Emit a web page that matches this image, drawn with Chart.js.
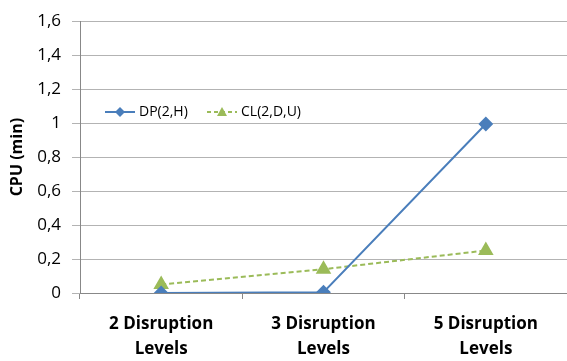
<!DOCTYPE html>
<html lang="en">
<head>
  <meta charset="UTF-8">
  <title>CPU time by disruption levels</title>
  <script src="https://cdn.jsdelivr.net/npm/chart.js@4.4.4/dist/chart.umd.min.js"></script>
  <style>
    html, body { margin: 0; padding: 0; background: #fff; }
    #wrap { width: 567px; height: 361px; }
  </style>
</head>
<body>
  <div id="wrap"><canvas id="chart"></canvas></div>
  <script>
    const categories = [["2 Disruption", "Levels"], ["3 Disruption", "Levels"], ["5 Disruption", "Levels"]];
    const dpValues = [0, 0.005, 0.995];
    const clValues = [0.05, 0.14, 0.25];
    const seriesNames = ["DP(2,H)", "CL(2,D,U)"];
    const yTicks = [0, 0.2, 0.4, 0.6, 0.8, 1, 1.2, 1.4, 1.6];

    const FONT = "'Open Sans', 'Liberation Sans', sans-serif";
    const BLUE = '#4a7ebb';
    const GREEN = '#9bbb59';

    // legend drawn inside the plot area, like the original
    const innerLegend = {
      id: 'innerLegend',
      afterDraw(chart) {
        const ctx = chart.ctx;
        const y = 112;
        ctx.save();
        ctx.font = "14px " + FONT;
        ctx.textBaseline = 'middle';

        ctx.strokeStyle = BLUE;
        ctx.lineWidth = 2;
        ctx.beginPath(); ctx.moveTo(105, y); ctx.lineTo(135, y); ctx.stroke();
        ctx.fillStyle = BLUE;
        ctx.beginPath();
        ctx.moveTo(120, y - 5); ctx.lineTo(125, y); ctx.lineTo(120, y + 5); ctx.lineTo(115, y);
        ctx.closePath(); ctx.fill();
        ctx.fillStyle = '#000';
        ctx.fillText(seriesNames[0], 139, y);

        ctx.strokeStyle = GREEN;
        ctx.setLineDash([4, 3]);
        ctx.beginPath(); ctx.moveTo(207, y); ctx.lineTo(237, y); ctx.stroke();
        ctx.setLineDash([]);
        ctx.fillStyle = GREEN;
        ctx.beginPath();
        ctx.moveTo(222, y - 5); ctx.lineTo(227, y + 4); ctx.lineTo(217, y + 4);
        ctx.closePath(); ctx.fill();
        ctx.fillStyle = '#000';
        ctx.fillText(seriesNames[1], 241, y);
        ctx.restore();
      }
    };

    const config = {
      type: 'line',
      data: {
        labels: categories,
        datasets: [
          {
            label: seriesNames[0],
            data: dpValues,
            borderColor: BLUE,
            backgroundColor: BLUE,
            borderWidth: 2,
            pointStyle: 'rectRot',
            pointRadius: 6,
            pointHoverRadius: 6,
            tension: 0
          },
          {
            label: seriesNames[1],
            data: clValues,
            borderColor: GREEN,
            backgroundColor: GREEN,
            borderWidth: 2,
            borderDash: [5, 3],
            pointStyle: 'triangle',
            pointRadius: 7,
            pointHoverRadius: 7,
            tension: 0
          }
        ]
      },
      options: {
        responsive: true,
        maintainAspectRatio: false,
        animation: false,
        layout: { autoPadding: false, padding: { top: 18, right: -4, left: 4, bottom: 0 } },
        scales: {
          x: {
            offset: true,
            afterFit: axis => { axis.height = 68; },
            grid: {
              offset: true,
              drawOnChartArea: false,
              color: '#888',
              tickLength: 6
            },
            border: { color: '#888' },
            ticks: {
              color: '#000',
              font: { family: FONT, size: 17, weight: 'bold', lineHeight: 1.45 },
              padding: 13,
              maxRotation: 0
            }
          },
          y: {
            min: 0,
            max: 1.6,
            afterBuildTicks: axis => { axis.ticks = yTicks.map(v => ({ value: v })); },
            afterFit: axis => { axis.width = 76; },
            grid: { color: '#b3b3b3', tickLength: 8 },
            border: { color: '#888' },
            ticks: {
              color: '#000',
              font: { family: FONT, size: 17 },
              padding: 11,
              callback: v => String(Math.round(v * 10) / 10).replace('.', ',')
            },
            title: {
              display: true,
              text: 'CPU (min)',
              color: '#000',
              font: { family: FONT, size: 16, weight: 'bold' },
              padding: 4
            }
          }
        },
        plugins: {
          legend: { display: false },
          tooltip: { enabled: false }
        }
      },
      plugins: [innerLegend]
    };

    new Chart(document.getElementById('chart'), config);
  </script>
</body>
</html>
